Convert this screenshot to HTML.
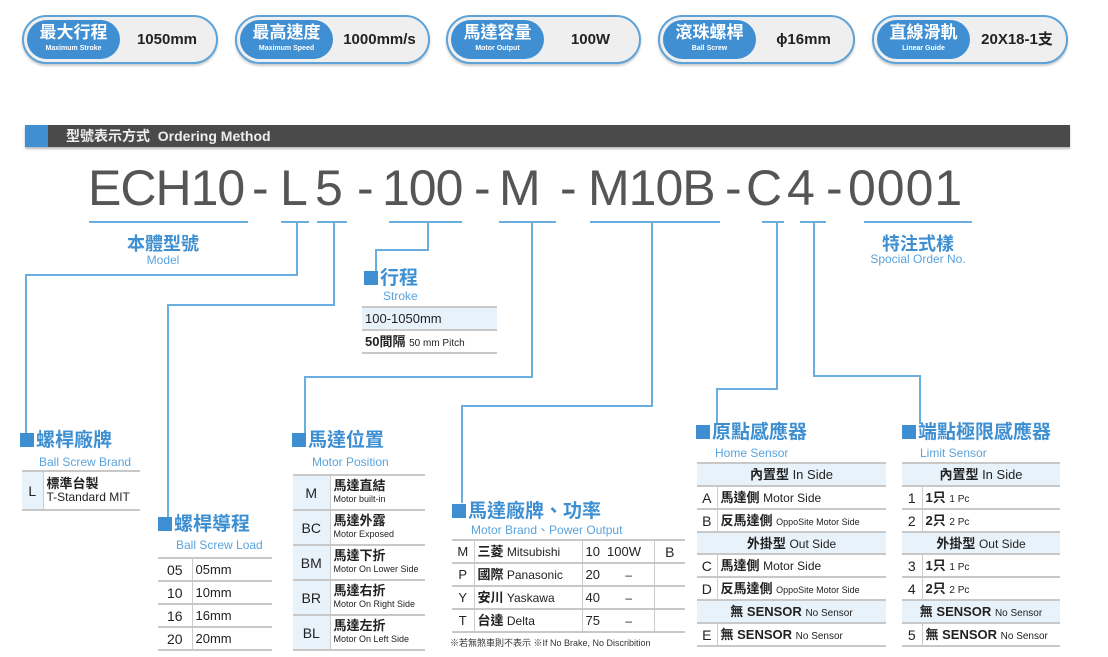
<!DOCTYPE html>
<html><head><meta charset="utf-8"><style>
*{margin:0;padding:0;box-sizing:border-box}
body{width:1108px;height:657px;background:#fff;position:relative;overflow:hidden;font-family:"Liberation Sans","Noto Sans CJK TC",sans-serif;color:#222}
.a{position:absolute}
.pill{position:absolute;top:15px;height:49px;border:2px solid #5ea3d8;border-radius:25px;background:#efefef;box-shadow:0 2px 2px #ccc}
.pin{position:absolute;left:3px;top:3px;width:93px;height:39px;border-radius:20px;background:#3f8fd2;color:#fff;text-align:center}
.pin b{display:block;font-size:17px;line-height:22px;margin-top:2px}
.pin i{display:block;font-style:normal;font-size:7px;font-weight:bold;line-height:10px}
.pv{position:absolute;left:100px;top:0;right:6px;line-height:45px;text-align:center;font-weight:bold;font-size:15px;color:#222}
.ln{position:absolute;background:#6aaee0}
.ul{position:absolute;top:221px;height:2px;background:#6aaee0}
.h{position:absolute;color:#3d8fd1;font-weight:bold;font-size:19px;line-height:22px;white-space:nowrap}
.h:before{content:"";display:inline-block;width:14px;height:14px;background:#3d8fd1;margin-right:2px;vertical-align:-1px}
.s{position:absolute;color:#5aa3dc;font-size:12px;white-space:nowrap}
table{position:absolute;border-collapse:collapse;font-size:13px}
td{border-top:2px solid #c8c8c8;border-bottom:2px solid #c8c8c8;padding:0 3px;white-space:nowrap;line-height:1}
td.k{background:#e8f2fb;text-align:center;border-right:1px solid #ccc;font-size:14px}
td.hd{background:#e8f2fb;text-align:center}
small{font-size:9px}
.sm{font-size:10px}
.big{position:absolute;top:160px;font-size:50px;line-height:56px;color:#555;white-space:nowrap;letter-spacing:-1px}
</style></head><body>

<div class="pill" style="left:22px;width:196px"><div class="pin"><b>最大行程</b><i>Maximum Stroke</i></div><div class="pv">1050mm</div></div>
<div class="pill" style="left:235px;width:195px"><div class="pin"><b>最高速度</b><i>Maximum Speed</i></div><div class="pv" style="left:96px;right:2px">1000mm/s</div></div>
<div class="pill" style="left:446px;width:195px"><div class="pin"><b>馬達容量</b><i>Motor Output</i></div><div class="pv">100W</div></div>
<div class="pill" style="left:658px;width:197px"><div class="pin"><b>滾珠螺桿</b><i>Ball Screw</i></div><div class="pv">ϕ16mm</div></div>
<div class="pill" style="left:872px;width:196px"><div class="pin"><b>直線滑軌</b><i>Linear Guide</i></div><div class="pv">20X18-1支</div></div>

<div class="a" style="left:25px;top:125px;width:1045px;height:22px;background:#4a4a4a;box-shadow:0 2px 2px #bbb"></div>
<div class="a" style="left:25px;top:125px;width:23px;height:22px;background:#3f8fd2"></div>
<div class="a" style="left:66px;top:125px;line-height:22px;color:#eee;font-weight:bold;font-size:14px">型號表示方式&nbsp; Ordering Method</div>

<div class="big" style="left:88px">ECH10</div>
<div class="big" style="left:252px">-</div>
<div class="big" style="left:280px">L</div>
<div class="big" style="left:315px">5</div>
<div class="big" style="left:357px">-</div>
<div class="big" style="left:382px">100</div>
<div class="big" style="left:474px">-</div>
<div class="big" style="left:499px">M</div>
<div class="big" style="left:560px">-</div>
<div class="big" style="left:588px">M10B</div>
<div class="big" style="left:725px">-</div>
<div class="big" style="left:746px">C</div>
<div class="big" style="left:787px">4</div>
<div class="big" style="left:826px">-</div>
<div class="big" style="left:848px;letter-spacing:1px">0001</div>

<div class="ul" style="left:89px;width:159px"></div>
<div class="ul" style="left:281px;width:28px"></div>
<div class="ul" style="left:317px;width:30px"></div>
<div class="ul" style="left:389px;width:73px"></div>
<div class="ul" style="left:499px;width:57px"></div>
<div class="ul" style="left:590px;width:130px"></div>
<div class="ul" style="left:762px;width:22px"></div>
<div class="ul" style="left:800px;width:26px"></div>
<div class="ul" style="left:864px;width:108px"></div>

<div class="a" style="left:113px;top:230px;width:100px;text-align:center;color:#3d8fd1;font-weight:bold;font-size:18px">本體型號</div>
<div class="a" style="left:113px;top:253px;width:100px;text-align:center;color:#5aa3dc;font-size:12px">Model</div>
<div class="a" style="left:868px;top:230px;width:100px;text-align:center;color:#3d8fd1;font-weight:bold;font-size:18px">特注式樣</div>
<div class="a" style="left:848px;top:252px;width:140px;text-align:center;color:#5aa3dc;font-size:12px">Spocial Order No.</div>

<div class="ln" style="left:296px;top:222px;width:2px;height:53px"></div>
<div class="ln" style="left:25px;top:274px;width:273px;height:2px"></div>
<div class="ln" style="left:25px;top:274px;width:2px;height:162px"></div>

<div class="ln" style="left:333px;top:222px;width:2px;height:83px"></div>
<div class="ln" style="left:167px;top:304px;width:168px;height:2px"></div>
<div class="ln" style="left:167px;top:304px;width:2px;height:214px"></div>

<div class="ln" style="left:427px;top:222px;width:2px;height:28px"></div>
<div class="ln" style="left:375px;top:249px;width:54px;height:2px"></div>
<div class="ln" style="left:375px;top:249px;width:2px;height:22px"></div>

<div class="ln" style="left:531px;top:222px;width:2px;height:156px"></div>
<div class="ln" style="left:304px;top:376px;width:229px;height:2px"></div>
<div class="ln" style="left:304px;top:376px;width:2px;height:58px"></div>

<div class="ln" style="left:651px;top:222px;width:2px;height:184px"></div>
<div class="ln" style="left:461px;top:405px;width:192px;height:2px"></div>
<div class="ln" style="left:461px;top:405px;width:2px;height:98px"></div>

<div class="ln" style="left:776px;top:222px;width:2px;height:168px"></div>
<div class="ln" style="left:716px;top:388px;width:62px;height:2px"></div>
<div class="ln" style="left:716px;top:388px;width:2px;height:36px"></div>

<div class="ln" style="left:813px;top:222px;width:2px;height:155px"></div>
<div class="ln" style="left:813px;top:375px;width:108px;height:2px"></div>
<div class="ln" style="left:919px;top:375px;width:2px;height:49px"></div>

<div class="h" style="left:364px;top:268px">行程</div>
<div class="s" style="left:383px;top:289px">Stroke</div>
<table style="left:362px;top:306px;width:135px">
<tr style="height:23px"><td style="background:#e8f2fb">100-1050mm</td></tr>
<tr style="height:23px"><td><b>50間隔</b> <span class="sm">50 mm Pitch</span></td></tr>
</table>

<div class="h" style="left:20px;top:430px">螺桿廠牌</div>
<div class="s" style="left:39px;top:455px">Ball Screw Brand</div>
<table style="left:22px;top:470px;width:118px">
<tr style="height:39px"><td class="k" style="width:21px;background:#e8f2fb">L</td><td style="line-height:13px"><b>標準台製</b><br><span style="font-size:12px">T-Standard MIT</span></td></tr>
</table>

<div class="h" style="left:158px;top:514px">螺桿導程</div>
<div class="s" style="left:176px;top:538px">Ball Screw Load</div>
<table style="left:158px;top:557px;width:114px">
<tr style="height:23px"><td class="k" style="width:34px;background:#fff">05</td><td>05mm</td></tr>
<tr style="height:23px"><td class="k" style="background:#fff">10</td><td>10mm</td></tr>
<tr style="height:23px"><td class="k" style="background:#fff">16</td><td>16mm</td></tr>
<tr style="height:23px"><td class="k" style="background:#fff">20</td><td>20mm</td></tr>
</table>

<div class="h" style="left:292px;top:430px">馬達位置</div>
<div class="s" style="left:312px;top:455px">Motor Position</div>
<table style="left:293px;top:474px;width:132px">
<tr style="height:35px"><td class="k" style="width:37px">M</td><td style="line-height:12px"><b style="font-size:13px">馬達直結</b><br><small>Motor built-in</small></td></tr>
<tr style="height:35px"><td class="k">BC</td><td style="line-height:12px"><b style="font-size:13px">馬達外露</b><br><small>Motor Exposed</small></td></tr>
<tr style="height:35px"><td class="k">BM</td><td style="line-height:12px"><b style="font-size:13px">馬達下折</b><br><small>Motor On Lower Side</small></td></tr>
<tr style="height:35px"><td class="k">BR</td><td style="line-height:12px"><b style="font-size:13px">馬達右折</b><br><small>Motor On Right Side</small></td></tr>
<tr style="height:35px"><td class="k">BL</td><td style="line-height:12px"><b style="font-size:13px">馬達左折</b><br><small>Motor On Left Side</small></td></tr>
</table>

<div class="h" style="left:452px;top:501px">馬達廠牌、功率</div>
<div class="s" style="left:471px;top:521px">Motor Brand、Power Output</div>
<table style="left:452px;top:539px;width:233px;font-size:12px">
<tr style="height:23px"><td class="k" style="width:22px;background:#fff;font-size:13px">M</td><td><b style="font-size:13px">三菱</b> Mitsubishi</td><td style="border-left:1px solid #ccc;width:22px;font-size:13px">10</td><td style="width:50px;font-size:13px">100W</td><td style="border-left:1px solid #ccc;width:31px;text-align:center;font-size:14px">B</td></tr>
<tr style="height:23px"><td class="k" style="background:#fff;font-size:13px">P</td><td><b style="font-size:13px">國際</b> Panasonic</td><td style="border-left:1px solid #ccc;font-size:13px">20</td><td style="text-align:center">–</td><td style="border-left:1px solid #ccc"></td></tr>
<tr style="height:23px"><td class="k" style="background:#fff;font-size:13px">Y</td><td><b style="font-size:13px">安川</b> Yaskawa</td><td style="border-left:1px solid #ccc;font-size:13px">40</td><td style="text-align:center">–</td><td style="border-left:1px solid #ccc"></td></tr>
<tr style="height:23px"><td class="k" style="background:#fff;font-size:13px">T</td><td><b style="font-size:13px">台達</b> Delta</td><td style="border-left:1px solid #ccc;font-size:13px">75</td><td style="text-align:center">–</td><td style="border-left:1px solid #ccc"></td></tr>
</table>
<div class="a" style="left:450px;top:636px;font-size:9px;white-space:nowrap;color:#333">※若無煞車則不表示 ※If No Brake, No Discribition</div>

<div class="h" style="left:696px;top:422px">原點感應器</div>
<div class="s" style="left:715px;top:446px">Home Sensor</div>
<table style="left:697px;top:462px;width:189px">
<tr style="height:23px"><td class="hd" colspan="2"><b>內置型</b> In Side</td></tr>
<tr style="height:23px"><td class="k" style="width:20px;background:#fff">A</td><td><b>馬達側</b> <span style="font-size:12px">Motor Side</span></td></tr>
<tr style="height:23px"><td class="k" style="background:#fff">B</td><td><b>反馬達側</b> <small>OppoSite Motor Side</small></td></tr>
<tr style="height:22px"><td class="hd" colspan="2"><b>外掛型</b> <span style="font-size:12px">Out Side</span></td></tr>
<tr style="height:23px"><td class="k" style="background:#fff">C</td><td><b>馬達側</b> <span style="font-size:12px">Motor Side</span></td></tr>
<tr style="height:23px"><td class="k" style="background:#fff">D</td><td><b>反馬達側</b> <small>OppoSite Motor Side</small></td></tr>
<tr style="height:23px"><td class="hd" colspan="2"><b>無 SENSOR</b> <span class="sm">No Sensor</span></td></tr>
<tr style="height:23px"><td class="k" style="background:#fff">E</td><td><b>無 SENSOR</b> <span class="sm">No Sensor</span></td></tr>
</table>

<div class="h" style="left:902px;top:422px">端點極限感應器</div>
<div class="s" style="left:920px;top:446px">Limit Sensor</div>
<table style="left:902px;top:462px;width:158px">
<tr style="height:23px"><td class="hd" colspan="2"><b>內置型</b> In Side</td></tr>
<tr style="height:23px"><td class="k" style="width:20px;background:#fff">1</td><td><b>1只</b> <span class="sm">1 Pc</span></td></tr>
<tr style="height:23px"><td class="k" style="background:#fff">2</td><td><b>2只</b> <span class="sm">2 Pc</span></td></tr>
<tr style="height:22px"><td class="hd" colspan="2"><b>外掛型</b> <span style="font-size:12px">Out Side</span></td></tr>
<tr style="height:23px"><td class="k" style="background:#fff">3</td><td><b>1只</b> <span class="sm">1 Pc</span></td></tr>
<tr style="height:23px"><td class="k" style="background:#fff">4</td><td><b>2只</b> <span class="sm">2 Pc</span></td></tr>
<tr style="height:23px"><td class="hd" colspan="2"><b>無 SENSOR</b> <span class="sm">No Sensor</span></td></tr>
<tr style="height:23px"><td class="k" style="background:#fff">5</td><td><b>無 SENSOR</b> <span class="sm">No Sensor</span></td></tr>
</table>

</body></html>
